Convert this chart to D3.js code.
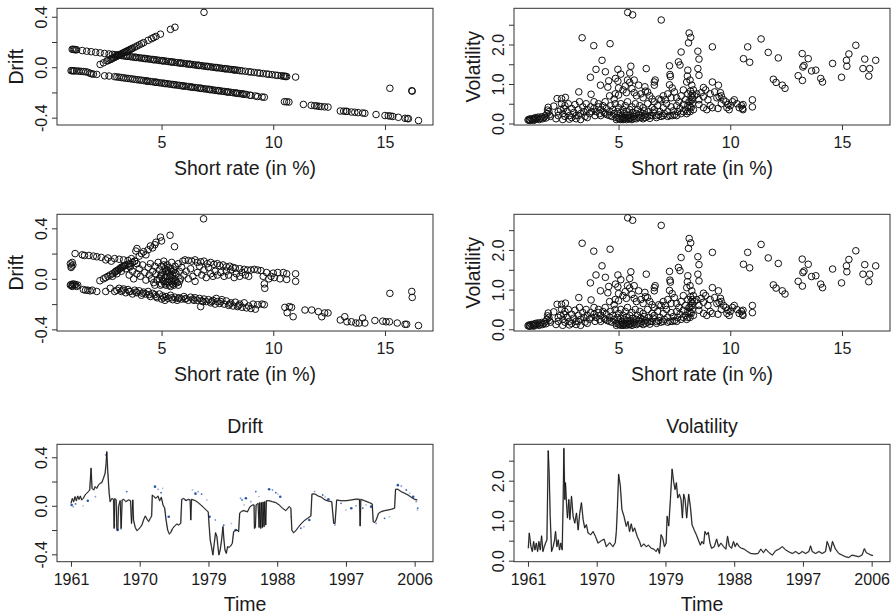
<!DOCTYPE html>
<html><head><meta charset="utf-8">
<script src="https://cdn.jsdelivr.net/npm/d3@7"></script>
<style>
body{margin:0;background:#fff}
svg{display:block}
text{font-family:"Liberation Sans",Arial,Helvetica,sans-serif;fill:#1a1a1a}
</style></head>
<body><svg id="c" width="893" height="615"></svg>
<script>
// ---------------- DATA ----------------
const rateTicks = [5, 10, 15];
const driftTicks = [-0.4, -0.2, 0, 0.2, 0.4];
const driftTickLabels = [-0.4, 0, 0.4];
const volTicks = [0, 0.5, 1, 1.5, 2, 2.5];
const volTickLabels = [0, 1, 2];
const yearTicks = [1961, 1970, 1979, 1988, 1997, 2006];

// Panel (1,1): fitted drift vs short rate
const fitUpper = [[1.00,.142],[1.05,.141],[1.10,.140],[1.15,.139],[1.20,.138],[1.45,.132],[1.65,.127],[1.85,.123],[2.05,.118],[2.25,.114],[2.45,.109],[2.65,.105],
[2.8,.102],[2.9,.099],[3.0,.097],[3.1,.095],[3.2,.093],[3.3,.090],[3.4,.088],[3.5,.086],[3.6,.084],[3.7,.081],[3.8,.079],[3.9,.077],[4.0,.075],[4.1,.072],[4.2,.070],[4.3,.068],[4.4,.066],[4.5,.063],[4.6,.061],[4.7,.059],[4.8,.057],[4.9,.054],[5.0,.052],[5.1,.050],[5.2,.048],[5.3,.045],[5.4,.043],[5.5,.041],[5.6,.039],[5.7,.036],[5.8,.034],[5.9,.032],[6.0,.030],[6.1,.027],[6.2,.025],[6.3,.023],[6.4,.021],[6.5,.018],[6.6,.016],[6.7,.014],[6.8,.012],[6.9,.009],[7.0,.007],[7.1,.005],[7.2,.003],[7.3,.000],[7.4,-.002],[7.5,-.004],[7.6,-.006],[7.7,-.009],[7.8,-.011],[7.9,-.013],[8.0,-.015],[8.1,-.018],[8.2,-.020],[8.3,-.022],[8.4,-.024],[8.5,-.027],[8.6,-.029],
[3.05,.096],[3.45,.087],[3.85,.078],[4.25,.069],[4.65,.060],[5.05,.051],[5.45,.042],[5.85,.033],[6.25,.024],[6.65,.015],[7.05,.006],[7.45,-.003],[7.85,-.012],[8.25,-.021],
[8.75,-.032],[8.9,-.036],[9.0,-.038],[9.15,-.041],[9.3,-.045],[9.4,-.047],[9.55,-.050],[9.7,-.054],[9.8,-.056],[9.95,-.059],[10.1,-.063],[10.2,-.065],[10.35,-.068],[10.45,-.070],[10.5,-.072],[10.55,-.073],[10.6,-.074],[11.0,-.078]];
const fitLower = [[0.95,-.027],[1.0,-.028],[1.05,-.028],[1.1,-.029],[1.2,-.030],[1.3,-.031],[1.4,-.033],[1.5,-.034],[1.6,-.036],[1.7,-.040],[1.8,-.048],[1.87,-.052],[1.95,-.055],[2.1,-.057],[2.45,-.068],[2.65,-.070],
[2.9,-.075],[3.0,-.077],[3.1,-.079],[3.2,-.082],[3.3,-.084],[3.4,-.087],[3.5,-.089],[3.6,-.091],[3.7,-.094],[3.8,-.096],[3.9,-.099],[4.0,-.101],[4.1,-.103],[4.2,-.106],[4.3,-.108],[4.4,-.111],[4.5,-.113],[4.6,-.115],[4.7,-.118],[4.8,-.120],[4.9,-.123],[5.0,-.125],[5.1,-.127],[5.2,-.130],[5.3,-.132],[5.4,-.135],[5.5,-.137],[5.6,-.139],[5.7,-.142],[5.8,-.144],[5.9,-.147],[6.0,-.149],[6.1,-.151],[6.2,-.154],[6.3,-.156],[6.4,-.159],[6.5,-.161],[6.6,-.163],[6.7,-.166],[6.8,-.168],[6.9,-.171],[7.0,-.173],[7.1,-.175],[7.2,-.178],[7.3,-.180],[7.4,-.183],[7.5,-.185],[7.6,-.187],[7.7,-.190],[7.8,-.192],[7.9,-.195],[8.0,-.197],[8.1,-.199],[8.2,-.202],[8.3,-.204],[8.4,-.207],[8.5,-.209],[8.6,-.211],[8.7,-.214],[8.8,-.216],
[4.35,-.110],[4.75,-.119],[5.15,-.129],[5.55,-.138],[5.95,-.148],[6.35,-.158],[6.75,-.167],[7.15,-.177],[7.55,-.186],[7.95,-.196],[8.35,-.205],[8.65,-.213],
[8.95,-.222],[9.0,-.223],[9.2,-.228],[9.3,-.232],[9.5,-.236],[9.6,-.238],
[10.5,-.273],[10.6,-.274],[10.7,-.276],
[11.35,-.295],[11.7,-.302],[11.85,-.305],[11.95,-.307],[12.05,-.310],[12.15,-.312],[12.3,-.314],[12.45,-.316],
[13.0,-.347],[13.15,-.348],[13.25,-.350],[13.3,-.350],[13.5,-.355],[13.65,-.357],[13.8,-.360],[14.0,-.363],[14.1,-.365],
[14.6,-.375],[15.0,-.383],[15.15,-.385],[15.25,-.387],[15.35,-.390],[15.6,-.397],[15.9,-.405],[16.0,-.407],[16.05,-.408],[16.5,-.423]];
const fitRising = [[2.25,.022],[2.4,.035],[2.55,.050],[2.6,.052],[2.7,.060],[2.75,.065],[2.8,.070],[2.85,.075],[2.9,.078],[2.95,.083],[3.0,.088],[3.05,.092],[3.1,.096],[3.15,.101],[3.2,.105],[3.25,.110],[3.3,.114],[3.35,.119],[3.4,.123],[3.45,.128],[3.5,.132],[3.55,.136],[3.6,.141],[3.65,.145],[3.7,.150],[3.8,.159],[3.9,.168],[4.0,.177],[4.1,.186],[4.2,.195],[4.4,.213],[4.55,.226],[4.65,.235],[4.75,.244],[4.95,.262],[5.4,.300],[5.6,.317]];
const fitOutliers = [[6.9,.435],[15.22,-.167],[16.2,-.186],[16.22,-.190]];

// Panel (2,1): smoothed drift vs short rate
const smUpper = [[0.92,.12],[0.95,.09],[0.97,.10],[1.0,.13],[1.03,.11],[1.13,.20],
[1.45,.19],[1.55,.185],[1.75,.185],[1.95,.18],[2.1,.175],[2.3,.17],[2.5,.15],[2.6,.165],[2.75,.14],[2.9,.16],[3.1,.155],[3.3,.15],[3.5,.145],[3.65,.16],[3.8,.14],[3.9,.12],
[3.55,.03],[3.7,.06],[3.75,.0],[3.9,.04],[4.0,.08],[4.05,.02],[4.15,.11],[4.25,.05],[4.3,-.01],[4.4,.09],[4.45,.03],[4.5,.12],
[4.55,.0],[4.6,.06],[4.65,-.03],[4.7,.10],[4.75,.04],[4.8,-.01],[4.85,.13],[4.9,.07],[4.95,.02],[5.0,-.04],[5.0,.10],[5.05,.05],[5.1,-.02],[5.1,.14],[5.15,.08],[5.2,.02],[5.2,-.05],[5.25,.11],[5.3,.05],[5.3,-.03],[5.35,.0],[5.4,.08],[5.4,-.06],[5.45,.13],[5.5,.03],[5.5,-.04],[5.55,.07],[5.6,-.01],[5.6,.10],[5.65,.04],[5.7,-.03],[5.75,.12],[5.8,.06],[5.85,.0],[5.9,.09],[5.95,.14],[6.0,.03],
[4.9,.0],[4.95,-.05],[5.05,-.01],[5.15,-.04],[5.25,-.02],[5.35,-.05],[5.45,-.02],[5.55,-.05],[5.65,-.02],[5.0,.03],[5.2,.06],[5.4,.03],[5.6,.05],[5.3,.09],[5.1,.11],[4.7,-.05],[5.75,-.05],[5.8,-.02],[5.15,.01],[5.35,.02],[5.5,.0],[5.25,.07],[5.45,.06],
[6.05,.15],[6.2,.145],[6.35,.14],[6.5,.15],[6.6,.13],[6.75,.135],[6.9,.14],[7.05,.12],[7.2,.13],[7.35,.115],[7.5,.12],[7.6,.105],[7.75,.11],[7.9,.095],[8.05,.10],[8.2,.09],[8.3,.085],[8.5,.08],[8.7,.075],[8.85,.07],[9.0,.07],[9.15,.075],[9.3,.07],[9.45,.065],
[6.1,.06],[6.2,.0],[6.3,.08],[6.4,.02],[6.5,-.02],[6.6,.05],[6.7,.10],[6.8,.03],[6.9,.07],[7.0,.01],[7.1,.09],[7.2,.04],[7.3,.02],[7.4,.06],[7.5,.03],[7.65,.05],[7.8,.02],[7.9,.06],[8.0,.03],[8.1,.07],[8.25,.01],[8.35,.04],[8.5,.02],[8.6,.05],[8.75,.03],[8.9,.02],
[9.55,.02],[9.6,-.04],[9.62,-.075],[9.7,.05],[9.8,.0],[9.9,.02],[10.0,.045],[10.05,.01],[10.2,.05],[10.3,.0],[10.45,.05],[10.6,.04],[10.6,-.005],[11.0,.04],[11.0,-.02]];
const smRising = [[2.24,-.015],[2.4,.0],[2.5,.01],[2.6,.02],[2.7,.03],[2.8,.04],[2.9,.05],[2.95,.06],[3.0,.065],[3.05,.07],[3.1,.075],[3.15,.085],[3.2,.09],[3.25,.095],[3.3,.10],[3.35,.105],[3.4,.11],[3.5,.115],[3.55,.10],[3.6,.12],[3.7,.13],[3.8,.14],[3.85,.22],[3.9,.24],[4.0,.18],[4.1,.20],[4.2,.215],[4.3,.19],[4.4,.23],[4.5,.26],[4.6,.245],[4.7,.27],[4.75,.29],[4.95,.33],[5.0,.30],[5.38,.345],[5.58,.255],[6.88,.475],
[2.8,.02],[3.0,.04],[3.2,.06],[3.4,.08],[3.6,.095]];
const smLower = [[0.92,-.05],[0.95,-.045],[1.0,-.05],[1.05,-.04],[1.1,-.05],[1.15,-.045],[1.2,-.06],
[1.5,-.085],[1.6,-.09],[1.7,-.09],[1.8,-.095],[1.9,-.09],[2.1,-.10],[2.5,-.10],[2.7,-.075],[2.9,-.10],
[3.0,-.09],[3.1,-.075],[3.2,-.10],[3.3,-.08],[3.4,-.11],[3.5,-.085],[3.6,-.10],[3.7,-.12],[3.8,-.09],[3.9,-.11],[4.0,-.095],[4.1,-.13],[4.2,-.105],[4.3,-.12],[4.4,-.10],[4.5,-.14],[4.6,-.115],[4.7,-.125],[4.8,-.15],[4.9,-.12],[5.0,-.16],[5.05,-.135],[5.15,-.17],[5.2,-.14],[5.3,-.155],[5.4,-.13],[5.5,-.165],[5.6,-.145],[5.7,-.17],[5.8,-.15],[5.9,-.16],[6.0,-.14],[6.1,-.155],[6.2,-.17],[6.3,-.145],[6.4,-.16],[6.5,-.15],[6.6,-.17],[6.7,-.155],[6.75,-.22],[6.8,-.175],[6.9,-.16],[7.0,-.18],[7.1,-.165],[7.2,-.19],[7.3,-.17],[7.4,-.20],[7.45,-.155],[7.5,-.18],[7.6,-.195],[7.7,-.165],[7.8,-.20],[7.9,-.175],[8.0,-.21],[8.1,-.19],[8.2,-.215],[8.3,-.185],[8.4,-.22],[8.5,-.20],[8.6,-.225],[8.7,-.19],[8.8,-.23],[8.9,-.215],[9.0,-.235],[9.1,-.20],[9.2,-.24],[9.3,-.205],[9.5,-.20],[9.6,-.205],
[3.25,-.09],[3.55,-.1],[3.85,-.105],[4.15,-.115],[4.45,-.125],[4.75,-.14],[5.1,-.15],[5.45,-.15],[5.75,-.155],[6.05,-.16],[6.45,-.17],[6.85,-.18],[7.25,-.18],[7.65,-.18],[8.05,-.2],[8.45,-.21],[1.25,-.05],[1.0,-.06],
[10.52,-.226],[10.62,-.268],[10.72,-.22],[10.82,-.226],[10.89,-.30],
[11.42,-.247],[11.72,-.247],[12.02,-.26],[12.17,-.30],[12.3,-.27],[12.45,-.27],
[13.0,-.326],[13.2,-.30],[13.3,-.34],[13.5,-.34],[13.7,-.35],[13.85,-.35],[14.0,-.31],[14.1,-.35],
[14.55,-.33],[14.9,-.335],[15.05,-.34],[15.2,-.34],[15.55,-.35],[15.9,-.36],[15.97,-.36],[16.5,-.37],
[15.22,-.115],[16.2,-.10],[16.22,-.147]];

// Panels (1,2) and (2,2): volatility vs short rate
const volScatterHigh = [[5.41,2.81],[5.63,2.75],[6.91,2.62],[3.37,2.17],[3.89,1.97],[4.62,2.02],[8.16,2.29],[8.23,2.18],[8.13,2.04],[7.8,1.81],[9.2,1.94],[8.55,1.83],[8.6,1.63],[8.55,1.39],[8.6,1.22],[7.28,1.46],[7.68,1.56],[7.75,1.48],[8.1,1.35],[8.08,1.2],[8.2,1.1],[8.28,0.97],[8.35,0.85],[8.05,1.05],[7.3,1.24],[7.32,1.19],[7.28,0.98],[7.4,0.9],[6.24,1.39],[6.64,1.1],[6.6,0.97],[6.6,1.05],[6.18,0.93],[6.2,0.82],[4.26,1.6],[4.41,1.31],[3.99,1.37],[3.74,1.17],[4.19,0.97],[4.56,1.08],[4.52,0.92],[4.97,1.37],[5.1,1.25],[5.5,1.28],[5.55,1.45],[4.97,1.07],[4.86,1.14],[5.4,1.1],[5.5,1.04],[5.7,1.1],[5.9,0.97],[3.22,0.8],[3.77,0.74],[9.2,1.05],[9.47,0.97],[9.56,0.78],[9.6,0.7],[8.8,0.91],[10.18,0.6],[10.57,0.48],[10.57,0.35],[10.99,0.6],[10.99,0.42],[10.59,1.64],[10.78,1.94],[10.87,1.55],[11.38,2.14],[11.7,1.8],[11.93,1.12],[12.05,1.04],[12.15,1.66],[12.33,0.97],[12.45,0.89],[13.04,1.21],[13.23,1.09],[13.22,1.77],[13.25,1.43],[13.3,1.47],[13.49,1.64],[13.64,1.33],[13.83,1.35],[14.05,1.14],[14.13,1.05],[14.58,1.52],[14.98,1.17],[15.2,1.6],[15.22,1.45],[15.31,1.76],[15.62,1.98],[15.94,1.39],[16.02,1.63],[16.24,1.39],[16.2,1.2],[16.51,1.6]];
const volScatterMid = [[5.0,0.9],[5.2,0.85],[5.3,0.95],[5.35,0.78],[5.6,0.88],[5.7,0.78],[5.8,0.7],[5.0,0.72],[4.85,0.75],[4.8,0.62],[4.6,0.7],[4.4,0.55],[4.1,0.5],[3.9,0.55],[6.0,0.75],[6.1,0.65],[6.3,0.8],[6.4,0.7],[6.5,0.62],[6.6,0.55],[6.8,0.62],[6.9,0.6],[7.0,0.7],[7.1,0.6],[7.2,0.75],[7.35,0.65],[7.5,0.8],[7.6,0.65],[7.7,0.55],[7.8,0.7],[7.9,0.85],[8.0,0.6],[8.1,0.75],[8.2,0.55],[8.3,0.65],[8.4,0.7],[8.5,0.75],[8.6,0.6],[8.7,0.78],[8.8,0.68],[8.9,0.85],[9.0,0.6],[9.1,0.75],[9.3,0.8],[9.4,0.65],[9.5,0.68],[9.7,0.6],[9.8,0.55],[9.9,0.48],[10.0,0.45],[10.1,0.55],[10.3,0.5],[10.4,0.4],[10.5,0.45],[8.6,0.48],[8.8,0.4],[8.95,0.35],[9.1,0.45],[9.2,0.4],[9.45,0.38],[9.6,0.5],[9.85,0.4],[9.95,0.35],[10.55,0.38],
[8.3,0.6],[8.25,0.7],[8.3,0.75],[8.22,0.82]];
const volScatterLow = [[0.95,0.09],[1.0,0.11],[1.05,0.08],[1.1,0.12],[1.15,0.1],[1.2,0.13],[1.25,0.1],[1.3,0.15],[1.35,0.12],[1.4,0.16],[1.5,0.13],[1.55,0.17],[1.65,0.15],[1.7,0.19],[1.75,0.14],[1.45,0.1],[1.6,0.12],[1.2,0.08],[1.0,0.08],
[1.8,0.25],[1.82,0.34],[1.85,0.41],[1.88,0.3],[1.9,0.22],[1.95,0.18],
[2.1,0.44],[2.25,0.63],[2.45,0.63],[2.62,0.66],[2.2,0.12],[2.5,0.1],[2.8,0.11],[3.1,0.12],[3.3,0.1],[2.3,0.2],[2.3,0.3],[2.55,0.38],[2.45,0.5],[2.6,0.18],[2.9,0.15],[3.2,0.2],[3.6,0.15],
[2.4,0.35],[2.5,0.25],[2.6,0.45],[2.7,0.3],[2.75,0.5],[2.8,0.2],[2.9,0.38],[3.0,0.28],[3.05,0.48],[3.1,0.2],[3.2,0.35],[3.25,0.55],[3.3,0.25],[3.4,0.42],[3.45,0.3],[3.5,0.18],[3.55,0.5],[3.6,0.35],[3.7,0.25],[3.75,0.42],[3.8,0.3],[3.9,0.38],[3.95,0.2],[4.0,0.3],[4.1,0.42],[4.15,0.25],[4.2,0.35],[4.3,0.45],[4.35,0.28],[4.45,0.38],[4.5,0.22],[4.2,0.2],[4.4,0.25],[4.6,0.2],
[4.6,0.3],[4.65,0.45],[4.7,0.18],[4.75,0.35],[4.8,0.25],[4.85,0.5],[4.9,0.15],[4.95,0.3],[5.0,0.2],[5.0,0.4],[5.05,0.12],[5.1,0.28],[5.1,0.5],[5.15,0.18],[5.2,0.35],[5.2,0.1],[5.25,0.25],[5.3,0.45],[5.3,0.15],[5.35,0.3],[5.4,0.2],[5.4,0.55],[5.45,0.12],[5.5,0.35],[5.5,0.22],[5.55,0.15],[5.6,0.42],[5.65,0.28],[5.7,0.18],[5.75,0.5],[5.8,0.25],[5.85,0.35],[5.9,0.15],[5.95,0.45],[6.0,0.28],[6.05,0.2],[6.1,0.4],[6.15,0.32],[6.2,0.22],[6.3,0.5],[6.35,0.3],[6.4,0.2],[6.5,0.4],[6.55,0.28],
[4.9,0.1],[5.0,0.13],[5.1,0.1],[5.2,0.15],[5.25,0.12],[5.35,0.1],[5.4,0.15],[5.5,0.12],[5.6,0.1],[5.65,0.18],[5.7,0.13],[5.8,0.12],[5.9,0.22],[6.0,0.15],[6.1,0.12],[6.2,0.15],[6.3,0.18],[6.4,0.13],[6.5,0.2],[6.7,0.15],[6.8,0.22],[7.0,0.2],[7.2,0.18],[7.4,0.2],[7.6,0.2],[7.9,0.3],[8.1,0.3],[8.2,0.42],
[6.6,0.35],[6.7,0.2],[6.75,0.45],[6.85,0.3],[6.9,0.18],[7.0,0.4],[7.05,0.25],[7.15,0.5],[7.2,0.3],[7.3,0.2],[7.35,0.42],[7.45,0.32],[7.5,0.22],[7.6,0.45],[7.65,0.3],[7.75,0.38],[7.8,0.25],[7.9,0.48],[8.0,0.35],[8.05,0.25],[8.1,0.45],[8.15,0.55],[8.2,0.3],[8.25,0.4],[8.3,0.5],[8.35,0.35]];

// Panel (3,1): drift over time (line) and estimates (dots)
const driftTime = [1961.0,1961.18,1961.35,1961.53,1961.7,1961.88,1962.05,1962.23,1962.4,1962.62,1962.84,1963.06,1963.28,1963.45,1963.63,1963.76,1963.98,1964.16,1964.37,1964.6,1964.81,1965.03,1965.25,1965.47,1965.6,1965.69,1965.82,1966.0,1966.13,1966.35,1966.57,1966.65,1966.74,1966.92,1967.0,1967.13,1967.22,1967.44,1967.57,1967.7,1967.92,1968.19,1968.54,1968.8,1968.93,1969.1,1969.19,1969.41,1969.63,1969.85,1970.07,1970.29,1970.5,1970.73,1970.95,1971.17,1971.39,1971.56,1971.65,1971.87,1972.13,1972.39,1972.61,1972.83,1973.05,1973.27,1973.45,1973.66,1973.88,1974.06,1974.32,1974.58,1974.85,1975.11,1975.37,1975.5,1975.77,1976.07,1976.34,1976.6,1976.69,1976.78,1977.04,1977.3,1977.65,1978.0,1978.35,1978.7,1978.97,1979.1,1979.23,1979.4,1979.58,1979.76,1979.93,1980.11,1980.24,1980.37,1980.54,1980.72,1980.9,1981.03,1981.16,1981.33,1981.51,1981.68,1981.9,1982.12,1982.3,1982.52,1982.74,1982.95,1983.09,1983.35,1983.66,1984.1,1984.45,1984.8,1984.97,1985.02,1985.15,1985.24,1985.5,1985.63,1985.72,1985.85,1985.94,1986.07,1986.15,1986.28,1986.37,1986.5,1986.59,1986.94,1987.38,1987.82,1988.26,1988.69,1989.13,1989.57,1989.79,1989.92,1990.14,1990.45,1990.75,1991.1,1991.54,1991.98,1992.41,1992.55,1992.94,1993.38,1993.82,1994.26,1994.7,1995.14,1995.4,1995.57,1995.79,1996.36,1997.02,1997.68,1998.33,1998.77,1998.86,1998.95,1999.43,2000.09,2000.44,2000.57,2000.75,2000.96,2001.27,2001.62,2002.06,2002.5,2002.93,2003.37,2003.5,2003.81,2004.25,2004.69,2005.13,2005.56,2006.0,2006.35];
const driftValue = [.02,.06,.034,.075,.042,.08,.053,.08,.048,.062,.089,.103,.117,.13,.31,.144,.13,.158,.144,.171,.185,.19,.227,.268,.35,.446,.28,.103,.034,.06,.053,-.186,.06,.048,-.19,-.2,-.007,.042,-.186,.048,.053,.034,.048,.042,-.145,.048,-.117,-.178,-.205,-.194,-.178,-.158,-.117,-.084,-.11,-.13,-.103,-.084,.089,.075,.062,.08,.042,.07,.007,-.02,-.117,-.2,-.233,-.222,-.186,-.167,-.15,-.158,-.145,.053,.06,.042,.053,.048,-.117,.053,.048,.042,.026,.007,-.013,-.035,-.05,-.172,-.282,-.337,-.405,-.31,-.222,-.255,-.337,-.405,-.364,-.282,-.172,-.282,-.364,-.392,-.337,-.343,-.332,-.31,-.213,-.205,-.2,-.213,-.06,-.045,-.04,-.05,-.007,.007,.007,-.186,-.178,.007,.02,-.178,.026,-.186,.026,-.178,.031,-.172,.034,-.158,.042,.042,.034,.026,.007,-.02,-.04,-.007,-.02,-.2,-.222,-.205,-.178,-.15,-.123,-.103,-.084,.097,.097,.08,.07,.048,.039,.034,-.145,-.145,.048,.042,.042,.048,.055,.053,-.167,.053,.042,.026,.015,-.13,-.138,-.117,-.062,-.048,-.04,-.035,-.029,-.02,.136,.136,.116,.103,.089,.07,.053,.048];
const dotTime = [1961.09,1961.3,1961.6,1962.6,1963.2,1964.2,1965.56,1966.9,1967.1,1967.5,1968.3,1968.8,1972.0,1972.4,1972.8,1973.0,1973.8,1974.15,1976.0,1976.9,1977.3,1977.65,1978.1,1978.8,1979.15,1979.9,1981.0,1982.0,1982.56,1983.2,1983.4,1983.66,1983.9,1984.55,1985.2,1985.6,1986.94,1987.38,1987.82,1988.1,1988.4,1989.8,1991.1,1991.5,1992.2,1992.9,1993.96,1994.3,1994.7,1995.57,1996.36,1997.0,1997.7,1998.33,1999.2,1999.65,2000.3,2000.96,2002.06,2002.7,2003.8,2004.25,2004.9,2005.35,2005.8,2006.2,2006.4,2006.35];
const dotValue = [.007,-.007,.015,0,.042,.075,.42,-.16,-.2,-.19,.117,.006,.158,.136,.108,.144,-.09,-.2,.048,.13,.1,.116,.097,.048,-.09,-.117,-.16,-.145,-.2,.062,.048,.007,.062,.034,.117,.075,.136,.13,.108,.097,.075,-.09,-.185,-.172,-.117,.117,.089,.075,.053,-.158,.02,-.035,-.02,0,-.02,.007,-.007,-.145,-.103,-.09,.17,.163,.13,.103,.075,.034,-.02,-.035];

// Panel (3,2): volatility over time
const volTime = [1961.04,1961.17,1961.39,1961.57,1961.74,1961.91,1962.09,1962.26,1962.43,1962.61,1962.78,1962.96,1963.13,1963.3,1963.48,1963.65,1963.78,1963.91,1964.09,1964.3,1964.48,1964.61,1964.78,1964.96,1965.13,1965.3,1965.48,1965.61,1965.7,1965.83,1965.91,1966.04,1966.17,1966.35,1966.48,1966.7,1966.91,1967.13,1967.35,1967.57,1967.78,1968.0,1968.22,1968.43,1968.65,1968.87,1969.22,1969.52,1969.83,1970.17,1970.61,1970.96,1971.26,1971.7,1972.13,1972.43,1972.57,1972.7,1972.87,1973.09,1973.3,1973.57,1973.87,1974.09,1974.3,1974.52,1974.74,1974.96,1975.3,1975.61,1975.83,1976.17,1976.48,1976.78,1977.13,1977.48,1977.78,1978.0,1978.22,1978.43,1978.65,1978.87,1979.09,1979.22,1979.43,1979.65,1979.87,1980.09,1980.26,1980.43,1980.61,1980.83,1981.04,1981.22,1981.39,1981.57,1981.78,1982.04,1982.26,1982.48,1982.78,1983.04,1983.3,1983.57,1983.78,1984.0,1984.17,1984.39,1984.61,1984.83,1985.04,1985.39,1985.7,1985.96,1986.26,1986.61,1986.91,1987.13,1987.35,1987.65,1987.91,1988.13,1988.35,1988.65,1988.96,1989.3,1989.74,1990.17,1990.7,1991.13,1991.48,1991.83,1992.13,1992.57,1993.0,1993.43,1993.87,1994.3,1994.74,1995.17,1995.61,1996.04,1996.48,1996.91,1997.35,1997.78,1998.0,1998.22,1998.65,1999.09,1999.52,1999.96,2000.17,2000.43,2000.61,2000.87,2001.26,2001.7,2002.13,2002.57,2003.0,2003.43,2003.87,2004.3,2004.74,2005.04,2005.3,2005.61,2005.91,2006.17];
const volValue = [0.31,0.69,0.35,0.23,0.48,0.27,0.44,0.23,0.48,0.27,0.62,0.23,0.35,0.44,0.52,2.75,2.16,1.11,0.23,0.35,0.52,0.73,0.35,0.52,0.27,0.44,0.27,1.53,2.81,1.53,1.95,1.45,1.07,1.53,1.03,1.61,1.11,0.94,1.19,0.77,1.19,1.45,1.03,0.82,0.9,0.69,0.65,0.73,0.61,0.44,0.5,0.54,0.35,0.45,0.35,0.45,0.73,1.28,2.16,1.87,1.28,1.11,0.86,0.98,0.73,0.92,0.73,0.82,0.61,0.48,0.35,0.42,0.35,0.39,0.31,0.29,0.23,0.31,0.18,0.65,0.56,0.35,0.44,1.11,0.87,1.53,2.29,1.95,1.78,1.95,1.57,1.66,1.53,1.07,1.66,1.53,1.07,1.66,1.36,0.9,0.76,0.65,0.52,0.39,0.48,0.42,0.73,0.65,0.71,0.44,0.31,0.35,0.54,0.35,0.44,0.35,0.29,0.61,0.37,0.31,0.48,0.35,0.44,0.35,0.31,0.29,0.23,0.18,0.17,0.18,0.29,0.2,0.29,0.2,0.14,0.25,0.29,0.35,0.27,0.22,0.18,0.23,0.17,0.23,0.18,0.23,0.37,0.23,0.18,0.23,0.18,0.23,0.48,0.35,0.23,0.48,0.29,0.18,0.14,0.1,0.08,0.14,0.12,0.1,0.14,0.3,0.2,0.17,0.14,0.13];

// ---------------- DRAWING ----------------
const svg = d3.select('#c');
const toPts = (a) => a.map(p => ({x: p[0], y: p[1]}));
const zip = (a, b) => a.map((t, i) => ({x: t, y: b[i]}));

const COLS = [{l: 57, r: 433}, {l: 514, r: 890}];
const ROWS = [{t: 8.3, b: 125}, {t: 214.3, b: 331}, {t: 444.3, b: 561.7}];
const rateDomain = [0.32, 17.15];
const timeDomain = [1959.17, 2008.4];

function panel(o) {
  const c = COLS[o.col], rw = ROWS[o.row];
  const x = d3.scaleLinear().domain(o.xd).range([c.l, c.r]);
  const y = d3.scaleLinear().domain(o.yd).range([rw.b, rw.t]);
  const g = svg.append('g');

  const ax = g.append('g').attr('transform', `translate(0,${rw.b})`)
    .call(d3.axisBottom(x).tickValues(o.xt).tickSize(5).tickFormat(d => String(d)));
  ax.select('.domain').remove();
  ax.selectAll('line').attr('stroke', '#333');
  ax.selectAll('text').attr('y', 23).attr('dy', null)
    .style('font-size', '16px').style('fill', '#1a1a1a');

  const ay = g.append('g').attr('transform', `translate(${c.l},0)`)
    .call(d3.axisLeft(y).tickValues(o.yt).tickSize(5)
      .tickFormat(d => o.yl.some(v => Math.abs(v - d) < 1e-9) ? d.toFixed(1) : ''));
  ay.select('.domain').remove();
  ay.selectAll('line').attr('stroke', '#333');
  ay.selectAll('text').attr('x', 0).attr('y', 0).attr('dy', null)
    .attr('text-anchor', 'middle').attr('transform', 'translate(-10,0) rotate(-90)')
    .style('font-size', '16px').style('fill', '#1a1a1a');

  g.append('rect').attr('x', c.l).attr('y', rw.t).attr('width', c.r - c.l).attr('height', rw.b - rw.t)
    .attr('fill', 'none').attr('stroke', '#333').attr('stroke-width', 1);

  g.append('text').attr('x', (c.l + c.r) / 2).attr('y', rw.b + 49.5).attr('text-anchor', 'middle')
    .style('font-size', '19.5px').text(o.xlab);
  if (o.ylab) {
    g.append('text').attr('text-anchor', 'middle')
      .attr('transform', `translate(${c.l - 34},${(rw.t + rw.b) / 2}) rotate(-90)`)
      .style('font-size', '19.5px').text(o.ylab);
  }
  if (o.title) {
    g.append('text').attr('x', (c.l + c.r) / 2).attr('y', rw.t - 11.5).attr('text-anchor', 'middle')
      .style('font-size', '19.5px').text(o.title);
  }

  if (o.points) {
    g.append('g').selectAll('circle').data(o.points).join('circle')
      .attr('cx', d => x(d.x)).attr('cy', d => y(d.y)).attr('r', 3.3)
      .attr('fill', 'none').attr('stroke', '#111').attr('stroke-width', 1);
  }
  if (o.line) {
    const ln = d3.line().x(d => x(d.x)).y(d => y(d.y));
    g.append('path').datum(o.line).attr('d', ln).attr('fill', 'none')
      .attr('stroke', '#b0b0b0').attr('stroke-width', 1.6).attr('stroke-linejoin', 'round');
    if (o.dots) {
      g.append('g').selectAll('circle').data(o.dots).join('circle')
        .attr('cx', d => x(d.x)).attr('cy', d => y(d.y)).attr('r', (d, i) => i % 4 === 0 ? 1.3 : 0.9)
        .attr('fill', (d, i) => ['#2a56a8', '#7f9fd0', '#3d6bb8', '#a9bfe2'][i % 4]);
    }
    g.append('path').datum(o.line).attr('d', ln).attr('fill', 'none')
      .attr('stroke', '#111').attr('stroke-width', 0.9).attr('stroke-linejoin', 'round');
  }
}

panel({col: 0, row: 0, xd: rateDomain, yd: [-0.458, 0.467], xt: rateTicks, yt: driftTicks, yl: driftTickLabels,
  xlab: 'Short rate (in %)', ylab: 'Drift',
  points: toPts([].concat(fitUpper, fitLower, fitRising, fitOutliers))});
panel({col: 1, row: 0, xd: rateDomain, yd: [-0.038, 2.916], xt: rateTicks, yt: volTicks, yl: volTickLabels,
  xlab: 'Short rate (in %)', ylab: 'Volatility',
  points: toPts([].concat(volScatterLow, volScatterMid, volScatterHigh))});
panel({col: 0, row: 1, xd: rateDomain, yd: [-0.413, 0.511], xt: rateTicks, yt: driftTicks, yl: driftTickLabels,
  xlab: 'Short rate (in %)', ylab: 'Drift',
  points: toPts([].concat(smUpper, smRising, smLower))});
panel({col: 1, row: 1, xd: rateDomain, yd: [-0.043, 2.90], xt: rateTicks, yt: volTicks, yl: volTickLabels,
  xlab: 'Short rate (in %)', ylab: 'Volatility',
  points: toPts([].concat(volScatterLow, volScatterMid, volScatterHigh))});
panel({col: 0, row: 2, xd: timeDomain, yd: [-0.461, 0.507], xt: yearTicks, yt: driftTicks, yl: driftTickLabels,
  xlab: 'Time', title: 'Drift', line: zip(driftTime, driftValue), dots: zip(dotTime, dotValue)});
panel({col: 1, row: 2, xd: timeDomain, yd: [-0.025, 2.91], xt: yearTicks, yt: volTicks, yl: volTickLabels,
  xlab: 'Time', title: 'Volatility', line: zip(volTime, volValue)});
</script></body></html>
